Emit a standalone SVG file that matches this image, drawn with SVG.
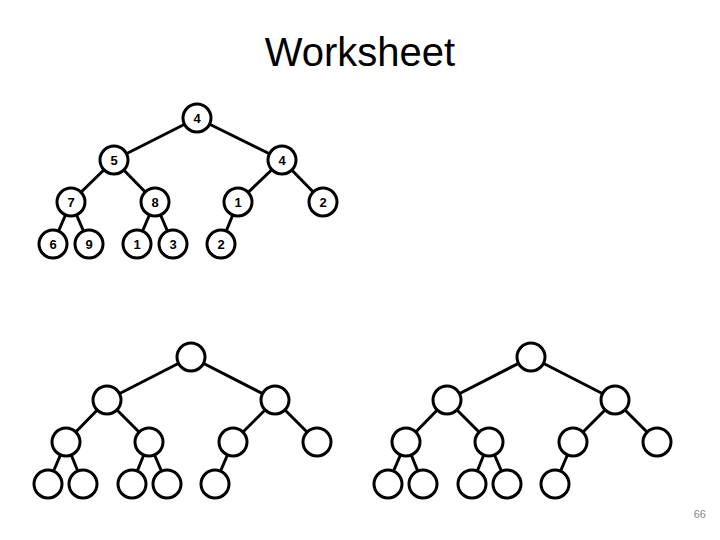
<svg xmlns="http://www.w3.org/2000/svg" width="720" height="540" viewBox="0 0 720 540">
<style>
.n circle{fill:#fff;stroke:#000;stroke-width:3}
.n text{font-family:"Liberation Sans",Arial,sans-serif;font-size:13px;font-weight:bold;text-anchor:middle;fill:#000}
.e line{stroke:#000;stroke-width:3}
.title{font-family:"Liberation Sans",Arial,sans-serif;font-size:40px;text-anchor:middle;fill:#000}
.pg{font-family:"Liberation Sans",Arial,sans-serif;font-size:11px;fill:#888;text-anchor:end}
</style>
<rect width="720" height="540" fill="#fff"/>
<text class="title" x="360" y="66">Worksheet</text>
<g id="connectors" class="e">
<line x1="197" y1="118" x2="114" y2="160"/>
<line x1="197" y1="118" x2="282" y2="160"/>
<line x1="114" y1="160" x2="71" y2="202"/>
<line x1="114" y1="160" x2="155" y2="202"/>
<line x1="282" y1="160" x2="238" y2="202"/>
<line x1="282" y1="160" x2="323" y2="202"/>
<line x1="71" y1="202" x2="53" y2="244"/>
<line x1="71" y1="202" x2="89" y2="244"/>
<line x1="155" y1="202" x2="137" y2="244"/>
<line x1="155" y1="202" x2="173" y2="244"/>
<line x1="238" y1="202" x2="221" y2="244"/>
<line x1="191" y1="357" x2="107" y2="400"/>
<line x1="191" y1="357" x2="275" y2="400"/>
<line x1="107" y1="400" x2="66" y2="442"/>
<line x1="107" y1="400" x2="149" y2="442"/>
<line x1="275" y1="400" x2="233" y2="442"/>
<line x1="275" y1="400" x2="317" y2="442"/>
<line x1="66" y1="442" x2="48" y2="484"/>
<line x1="66" y1="442" x2="83" y2="484"/>
<line x1="149" y1="442" x2="132" y2="484"/>
<line x1="149" y1="442" x2="167" y2="484"/>
<line x1="233" y1="442" x2="215" y2="484"/>
<line x1="531" y1="357" x2="447" y2="400"/>
<line x1="531" y1="357" x2="615" y2="400"/>
<line x1="447" y1="400" x2="406" y2="442"/>
<line x1="447" y1="400" x2="489" y2="442"/>
<line x1="615" y1="400" x2="573" y2="442"/>
<line x1="615" y1="400" x2="657" y2="442"/>
<line x1="406" y1="442" x2="388" y2="484"/>
<line x1="406" y1="442" x2="423" y2="484"/>
<line x1="489" y1="442" x2="472" y2="484"/>
<line x1="489" y1="442" x2="507" y2="484"/>
<line x1="573" y1="442" x2="555" y2="484"/>
</g>
<g id="t1-root" class="n"><circle cx="197" cy="118" r="14"/><text x="197" y="123">4</text></g>
<g id="t1-a" class="n"><circle cx="114" cy="160" r="14"/><text x="114" y="165">5</text></g>
<g id="t1-b" class="n"><circle cx="282" cy="160" r="14"/><text x="282" y="165">4</text></g>
<g id="t1-c" class="n"><circle cx="71" cy="202" r="14"/><text x="71" y="207">7</text></g>
<g id="t1-d" class="n"><circle cx="155" cy="202" r="14"/><text x="155" y="207">8</text></g>
<g id="t1-e" class="n"><circle cx="238" cy="202" r="14"/><text x="238" y="207">1</text></g>
<g id="t1-f" class="n"><circle cx="323" cy="202" r="14"/><text x="323" y="207">2</text></g>
<g id="t1-g" class="n"><circle cx="53" cy="244" r="14"/><text x="53" y="249">6</text></g>
<g id="t1-h" class="n"><circle cx="89" cy="244" r="14"/><text x="89" y="249">9</text></g>
<g id="t1-i" class="n"><circle cx="137" cy="244" r="14"/><text x="137" y="249">1</text></g>
<g id="t1-j" class="n"><circle cx="173" cy="244" r="14"/><text x="173" y="249">3</text></g>
<g id="t1-k" class="n"><circle cx="221" cy="244" r="14"/><text x="221" y="249">2</text></g>
<g id="t2-root" class="n"><circle cx="191" cy="357" r="14"/></g>
<g id="t2-a" class="n"><circle cx="107" cy="400" r="14"/></g>
<g id="t2-b" class="n"><circle cx="275" cy="400" r="14"/></g>
<g id="t2-c" class="n"><circle cx="66" cy="442" r="14"/></g>
<g id="t2-d" class="n"><circle cx="149" cy="442" r="14"/></g>
<g id="t2-e" class="n"><circle cx="233" cy="442" r="14"/></g>
<g id="t2-f" class="n"><circle cx="317" cy="442" r="14"/></g>
<g id="t2-g" class="n"><circle cx="48" cy="484" r="14"/></g>
<g id="t2-h" class="n"><circle cx="83" cy="484" r="14"/></g>
<g id="t2-i" class="n"><circle cx="132" cy="484" r="14"/></g>
<g id="t2-j" class="n"><circle cx="167" cy="484" r="14"/></g>
<g id="t2-k" class="n"><circle cx="215" cy="484" r="14"/></g>
<g id="t3-root" class="n"><circle cx="531" cy="357" r="14"/></g>
<g id="t3-a" class="n"><circle cx="447" cy="400" r="14"/></g>
<g id="t3-b" class="n"><circle cx="615" cy="400" r="14"/></g>
<g id="t3-c" class="n"><circle cx="406" cy="442" r="14"/></g>
<g id="t3-d" class="n"><circle cx="489" cy="442" r="14"/></g>
<g id="t3-e" class="n"><circle cx="573" cy="442" r="14"/></g>
<g id="t3-f" class="n"><circle cx="657" cy="442" r="14"/></g>
<g id="t3-g" class="n"><circle cx="388" cy="484" r="14"/></g>
<g id="t3-h" class="n"><circle cx="423" cy="484" r="14"/></g>
<g id="t3-i" class="n"><circle cx="472" cy="484" r="14"/></g>
<g id="t3-j" class="n"><circle cx="507" cy="484" r="14"/></g>
<g id="t3-k" class="n"><circle cx="555" cy="484" r="14"/></g>
<text class="pg" x="706" y="518">66</text>
</svg>
